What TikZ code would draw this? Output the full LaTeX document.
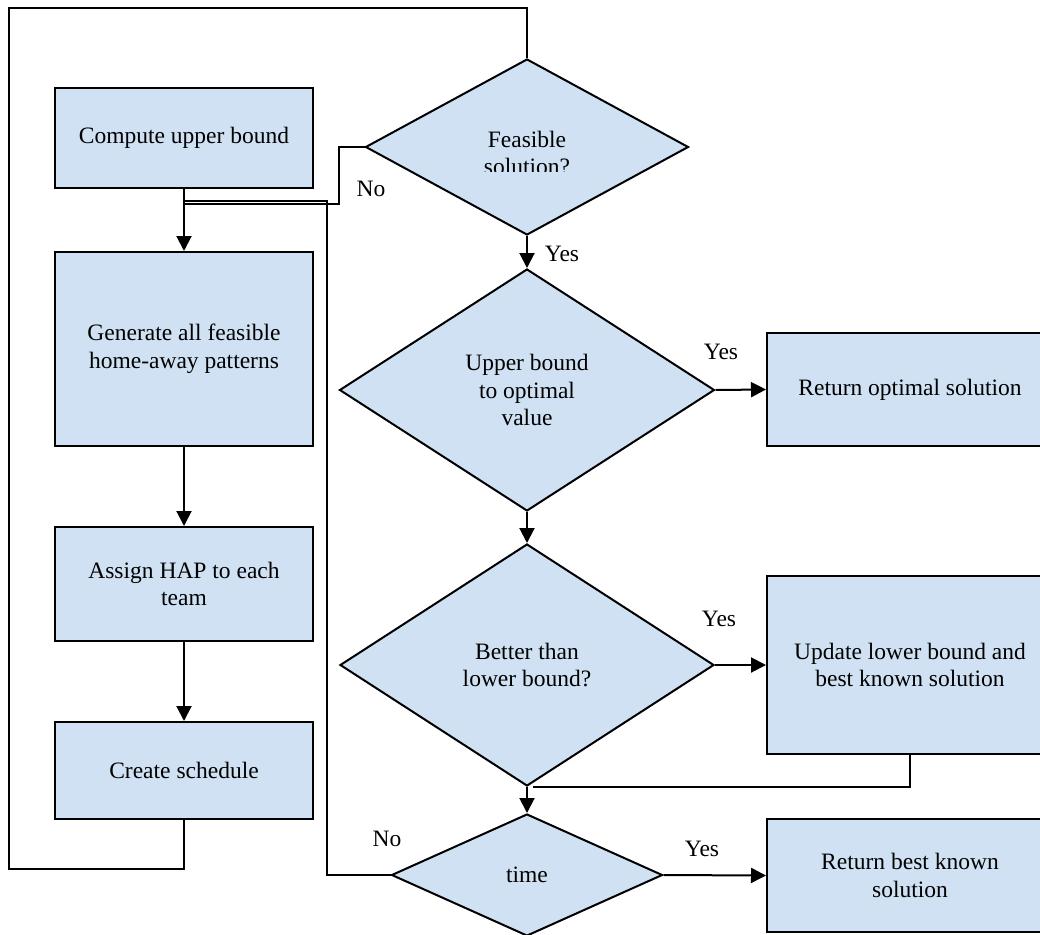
\documentclass[tikz,border=0pt]{standalone}
\usepackage{fontspec}
\setmainfont{Liberation Serif}
\newfontfamily\tnr{Liberation Serif}
\usetikzlibrary{shapes.geometric,arrows.meta}
\definecolor{boxfill}{RGB}{207,225,242}
\tikzset{
  base/.style={draw=black, line width=2pt, fill=boxfill, inner sep=0pt, align=center,
    font=\tnr\fontsize{23.5pt}{27.5pt}\selectfont},
  procbox/.style={base, rectangle},
  decision/.style={base, diamond},
  lbl/.style={inner sep=0pt, font=\tnr\fontsize{23.5pt}{27.5pt}\selectfont},
  conn/.style={draw=black, line width=2pt},
  arr/.style={conn, -{Triangle[length=15pt,width=15pt]}}
}
\begin{document}
\begin{tikzpicture}[x=1pt,y=-1pt]
\clip (0,0) rectangle (1040,934);
\fill[white] (0,0) rectangle (1040,934);
% left column
\node[procbox, minimum width=258pt, minimum height=100pt] (comp) at (184,138) {Compute upper bound};
\node[procbox, minimum width=258pt, minimum height=194pt] (gen) at (184,349) {Generate all feasible\\home-away patterns};
\node[procbox, minimum width=258pt, minimum height=114pt] (assign) at (184,584) {Assign HAP to each\\team};
\node[procbox, minimum width=258pt, minimum height=97pt] (create) at (184,770.5) {Create schedule};
% decisions
\node[decision, minimum width=323pt, minimum height=176pt] (feas) at (527,147) {};
\begin{scope}
\clip (360,60) rectangle (700,171);
\node[lbl, align=center] (feastext) at (527,153) {Feasible\\solution?};
\end{scope}
\node[decision, minimum width=375pt, minimum height=242pt] (ub) at (527,390) {Upper bound\\to optimal\\value};
\node[decision, minimum width=374pt, minimum height=242pt] (better) at (527,665) {Better than\\lower bound?};
\node[decision, minimum width=271pt, minimum height=122pt] (time) at (527,875) {time};
% right column
\node[procbox, minimum width=286pt, minimum height=113pt] (retopt) at (910,389.5) {Return optimal solution};
\node[procbox, minimum width=286pt, minimum height=178pt] (update) at (910,665) {Update lower bound and\\best known solution};
\node[procbox, minimum width=286pt, minimum height=113pt] (retbest) at (910,875.5) {Return best known\\solution};
% helper coordinates
\coordinate (nojoin) at (184,204);
\coordinate (timejoin) at (184,201);
\coordinate (updend) at (533,787);
% connectors
\draw[arr] (comp.south) -- (gen.north);
\draw[conn] (feas.west) -- (339,147) -- (339,204) -- (nojoin);
\draw[conn] (time.west) -- (327,875) -- (327,201) -- (timejoin);
\draw[arr] (gen.south) -- (assign.north);
\draw[arr] (assign.south) -- (create.north);
\draw[conn] (create.south) -- (184,869) -- (9,869) -- (9,8) -- (527,8) -- (feas.north);
\draw[arr] (feas.south) -- (ub.north);
\draw[arr] (ub.east) -- (retopt.west);
\draw[arr] (ub.south) -- (better.north);
\draw[arr] (better.east) -- (update.west);
\draw[arr] (better.south) -- (time.north);
\draw[conn] (update.south) -- (910,787) -- (updend);
\draw[arr] (time.east) -- (retbest.west);
% labels
\node[lbl] (no1) at (371,189) {No};
\node[lbl] (no2) at (387,839) {No};
\node[lbl] (yes1) at (562,254) {Yes};
\node[lbl] (yes2) at (721,352) {Yes};
\node[lbl] (yes3) at (719,619) {Yes};
\node[lbl] (yes4) at (702,849) {Yes};
\end{tikzpicture}
\end{document}
